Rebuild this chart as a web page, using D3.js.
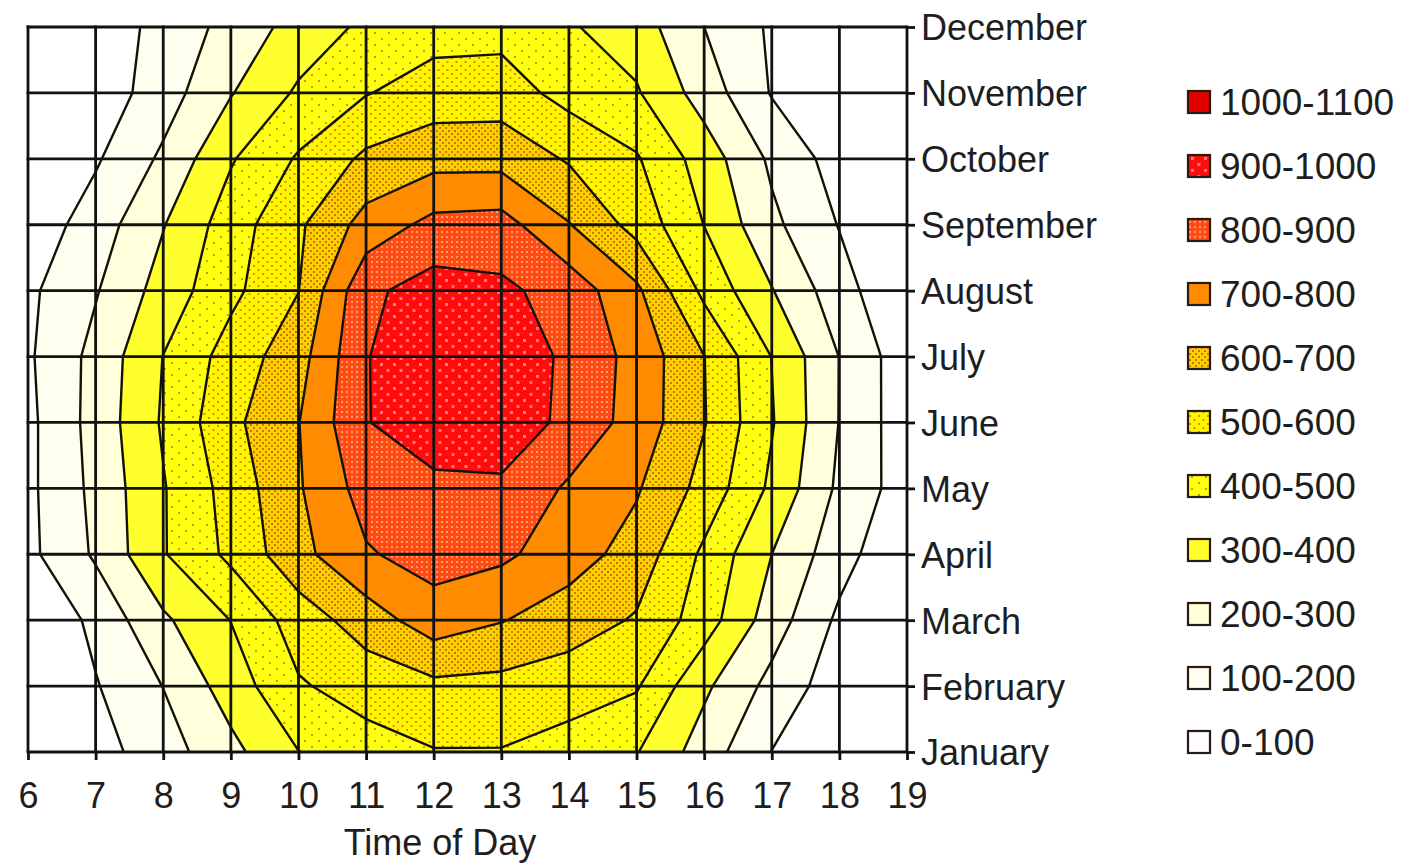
<!DOCTYPE html>
<html>
<head>
<meta charset="utf-8">
<script src="https://cdn.jsdelivr.net/npm/d3@7"></script>
<style>
  html, body { margin: 0; padding: 0; background: #ffffff; }
  svg { display: block; }
  text { font-family: "Liberation Sans", Arial, sans-serif; }
</style>
</head>
<body>
<svg id="chart" width="1418" height="865"></svg>
<script>
// Hours of the day along the x axis, months along the y axis
const hours = [6, 7, 8, 9, 10, 11, 12, 13, 14, 15, 16, 17, 18, 19];
const months = ["January", "February", "March", "April", "May", "June",
                "July", "August", "September", "October", "November", "December"];

// Irradiance per month, one value per hour (6 .. 19)
const january   = [0,  61, 155, 272, 398, 460, 495, 495, 460, 405, 252,  98,   0,  0];
const february  = [0,  93, 202, 347, 490, 540, 576, 570, 545, 510, 319, 169,  44,  0];
const march     = [0, 126, 283, 402, 547, 649, 754, 705, 650, 590, 450, 250,  80,  0];
const april     = [75, 214, 393, 523, 669, 790, 841, 820, 745, 660, 480, 300, 140, 10];
const may       = [78, 226, 393, 539, 690, 841, 874, 880, 786, 710, 567, 380, 180, 51];
const june      = [76, 237, 412, 575, 697, 895, 965, 970, 872, 761, 606, 408, 197, 40];
const july      = [86, 231, 402, 542, 660, 895, 980, 975, 878, 767, 602, 398, 198, 39];
const august    = [80, 192, 341, 475, 598, 880, 941, 920, 860, 720, 475, 305, 143,  0];
const september = [36, 148, 295, 451, 584, 738, 830, 840, 705, 564, 398, 223,  95,  0];
const october   = [0,  88, 218, 391, 511, 620, 665, 665, 590, 510, 355, 181,  56,  0];
const november  = [0,  37, 153, 294, 415, 495, 545, 550, 464, 410, 255,  93,   0,  0];
const december  = [0,  38, 132, 233, 339, 420, 460, 465, 410, 350, 200,  85,   0,  0];

// Contour levels and their band names
const thresholds = [100, 200, 300, 400, 500, 600, 700, 800, 900, 1000];
const bandLabels = ["0-100", "100-200", "200-300", "300-400", "400-500", "500-600",
                    "600-700", "700-800", "800-900", "900-1000", "1000-1100"];

const rows = [january, february, march, april, may, june,
              july, august, september, october, november, december];

const svg = d3.select("#chart");
const plot = { left: 28, right: 907, top: 27, bottom: 752 };

const x = d3.scaleLinear().domain([hours[0], hours[hours.length - 1]]).range([plot.left, plot.right]);
const y = d3.scalePoint().domain(months).range([plot.bottom, plot.top]);
const yIndex = d3.scaleLinear().domain([0, months.length - 1]).range([plot.bottom, plot.top]);

// ---- fill patterns for the bands ----
const defs = svg.append("defs");

function dotted(id, w, h, base, dotColor, dots, size) {
  const p = defs.append("pattern")
    .attr("id", id).attr("patternUnits", "userSpaceOnUse")
    .attr("width", w).attr("height", h);
  p.append("rect").attr("width", w).attr("height", h).attr("fill", base);
  dots.forEach(([dx, dy]) => {
    p.append("rect").attr("x", dx).attr("y", dy)
      .attr("width", size[0]).attr("height", size[1]).attr("fill", dotColor);
  });
  return `url(#${id})`;
}

const bandFills = [
  "#ffffff",
  "#fffff0",
  "#ffffdc",
  "#ffff2e",
  dotted("band4", 14, 12, "#ffff10", "#c99a10", [[3, 2], [10, 8]], [2, 2]),
  dotted("band5", 9, 8, "#fff600", "#d89000", [[1, 1], [5.5, 5]], [2, 2]),
  dotted("band6", 6, 6, "#ffd000", "#c87a00", [[1, 1], [4, 4]], [2, 2]),
  "#ff8c00",
  dotted("band8", 5, 5, "#ff4c14", "#ff9c6a", [[1, 1]], [2, 2]),
  dotted("band9", 13, 12, "#ff0c0c", "#ff7a7a", [[3, 3], [9.5, 9]], [3, 3]),
  "#e00000"
];

defs.append("clipPath").attr("id", "plot-clip")
  .append("rect")
  .attr("x", plot.left).attr("y", plot.top)
  .attr("width", plot.right - plot.left).attr("height", plot.bottom - plot.top);

// ---- contour bands ----
const contours = d3.contours()
  .size([hours.length, months.length])
  .thresholds(thresholds)(rows.flat());

// contour grid coordinates: sample (i, j) sits at (i + 0.5, j + 0.5)
const toScreen = d3.geoTransform({
  point(cx, cy) {
    this.stream.point(x(hours[0] + cx - 0.5), yIndex(cy - 0.5));
  }
});
const path = d3.geoPath(toScreen);

const field = svg.append("g").attr("clip-path", "url(#plot-clip)");

field.append("rect")
  .attr("x", plot.left).attr("y", plot.top)
  .attr("width", plot.right - plot.left).attr("height", plot.bottom - plot.top)
  .attr("fill", bandFills[0]);

field.selectAll("path.band")
  .data(contours)
  .join("path")
  .attr("class", "band")
  .attr("d", path)
  .attr("fill", d => bandFills[thresholds.indexOf(d.value) + 1]);

field.selectAll("path.edge")
  .data(contours)
  .join("path")
  .attr("class", "edge")
  .attr("d", path)
  .attr("fill", "none")
  .attr("stroke", "#141204")
  .attr("stroke-width", 2.4)
  .attr("stroke-linejoin", "round");

// ---- grid ----
const grid = svg.append("g").attr("stroke", "#111").attr("stroke-width", 2.8);

grid.selectAll("line.v")
  .data(hours)
  .join("line")
  .attr("x1", d => x(d)).attr("x2", d => x(d))
  .attr("y1", plot.top - 1.4).attr("y2", plot.bottom);

grid.selectAll("line.h")
  .data(months)
  .join("line")
  .attr("y1", d => y(d)).attr("y2", d => y(d))
  .attr("x1", plot.left - 1.4).attr("x2", plot.right);

// ---- axes ----
const xAxis = svg.append("g")
  .attr("transform", `translate(0,${plot.bottom})`)
  .call(d3.axisBottom(x).tickValues(hours).tickSize(8).tickPadding(22).tickFormat(d3.format("d")));

const yAxis = svg.append("g")
  .attr("transform", `translate(${plot.right},0)`)
  .call(d3.axisRight(y).tickSize(8).tickPadding(6));

[xAxis, yAxis].forEach(a => {
  a.attr("font-size", 36).attr("font-family", "'Liberation Sans', Arial, sans-serif").attr("color", "#1e1e1e");
  a.select(".domain").remove();
  a.selectAll(".tick line").attr("stroke", "#111").attr("stroke-width", 2.8);
});
yAxis.selectAll(".tick text").attr("dy", "0.36em");

svg.append("text")
  .attr("x", 440).attr("y", 855)
  .attr("text-anchor", "middle")
  .attr("font-size", 36)
  .attr("fill", "#1e1e1e")
  .text("Time of Day");

// ---- legend ----
const legendItems = bandLabels.map((label, i) => ({ label, fill: bandFills[i] })).reverse();
const legend = svg.append("g");
const rowsY = d3.scalePoint().domain(d3.range(legendItems.length)).range([102, 742]);

const item = legend.selectAll("g.item")
  .data(legendItems)
  .join("g")
  .attr("class", "item")
  .attr("transform", (d, i) => `translate(1188,${rowsY(i)})`);

item.append("rect")
  .attr("x", 0).attr("y", -11)
  .attr("width", 22).attr("height", 22)
  .attr("fill", d => d.fill)
  .attr("stroke", "#2a1a10")
  .attr("stroke-width", 2.2);

item.append("text")
  .attr("x", 32).attr("y", 13)
  .attr("font-size", 37)
  .attr("fill", "#1e1e1e")
  .text(d => d.label);
</script>
</body>
</html>
